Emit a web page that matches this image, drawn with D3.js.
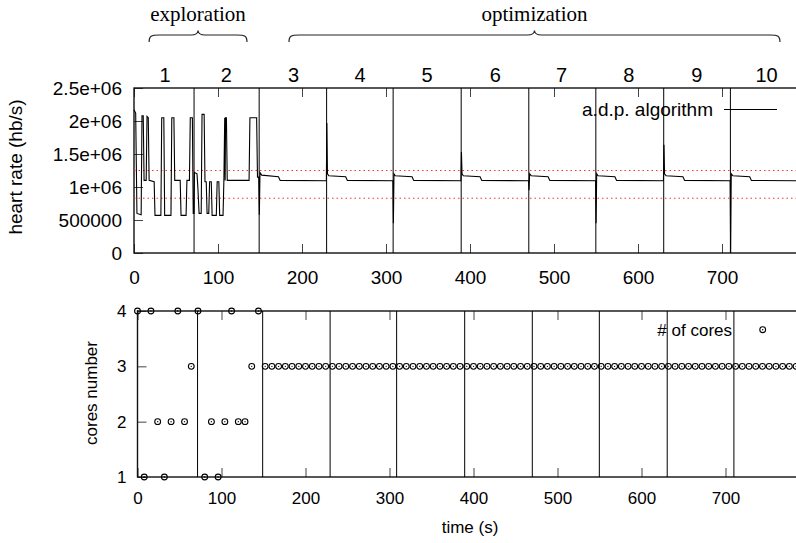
<!DOCTYPE html>
<html>
<head>
<meta charset="utf-8">
<script src="https://cdn.jsdelivr.net/npm/d3@7"></script>
<style>
  body { margin: 0; background: #fff; }
  svg text { font-family: "Liberation Sans", Arial, Helvetica, sans-serif; fill: #000; }
  svg text.serif { font-family: "Liberation Serif", "Times New Roman", serif; }
</style>
</head>
<body>
<svg id="chart" width="796" height="543"></svg>
<script>
/*
 * Heart rate and number of cores over time, split in an exploration
 * phase (sections 1-2) and an optimization phase (sections 3-10).
 */

// Section boundaries (s) and the labels written above the upper plot.
var sectionStarts = [71.5, 149, 229.3, 308.5, 389.5, 470, 549.8, 630.6, 710],
  sectionNames = ["1", "2", "3", "4", "5", "6", "7", "8", "9", "10"],
  sectionLabelTimes = [37, 110, 190, 269, 349, 430, 509, 589, 670, 753];

// Phases marked with braces at the very top (start / end time in s).
var phaseNames = ["exploration", "optimization"],
  phaseStarts = [18, 184.5],
  phaseEnds = [134.5, 769];

// Tick values and labels.
var timeTicks = [0, 100, 200, 300, 400, 500, 600, 700],
  rateTicks = [0, 500000, 1000000, 1500000, 2000000, 2500000],
  rateTickLabels = ["0", "500000", "1e+06", "1.5e+06", "2e+06", "2.5e+06"],
  coreTicks = [1, 2, 3, 4];

// Red dotted target band (hb/s).
var targetBand = [830000, 1250000];

// Heart rate measured by the a.d.p. algorithm: [time (s), hb/s].
var explorationRate = [
  [0, 2.17e6], [2, 2.12e6], [3.5, 0.6e6], [8.5, 0.58e6], [9.5, 2.08e6], [11, 2.08e6],
  [12, 1.1e6], [14.5, 1.1e6], [15.5, 2.07e6], [17, 2.05e6], [18, 1.1e6], [24, 1.08e6],
  [25, 0.57e6], [32, 0.57e6], [33, 2.05e6], [35.5, 2.05e6], [36.5, 0.57e6], [44, 0.57e6],
  [45, 2.05e6], [47.5, 2.05e6], [48.5, 1.1e6], [55, 1.1e6], [56, 0.57e6], [62, 0.57e6],
  [63, 1.1e6], [66, 1.1e6], [67, 2.05e6], [69.5, 2.05e6], [70.5, 0.6e6], [71.5, 0.6e6],
  [72, 1.22e6], [75, 1.2e6], [76, 1.0e6], [77.5, 0.6e6], [80, 0.6e6], [81, 2.1e6],
  [83.5, 2.1e6], [84.5, 1.08e6], [86, 1.08e6], [87, 0.6e6], [89, 0.6e6], [90, 1.08e6],
  [92, 1.08e6], [93, 0.57e6], [98, 0.57e6], [99, 1.08e6], [101, 1.08e6], [102, 0.57e6],
  [106, 0.57e6], [107, 1.1e6], [108, 2.05e6], [108.5, 1.1e6], [109, 2.05e6], [110, 2.05e6],
  [111, 1.1e6], [137, 1.1e6], [138, 2.05e6], [146, 2.05e6], [147, 1.15e6], [148.5, 1.15e6]
];

var optimizationRate = [
  [149.2, 0.58e6], [150, 1.22e6], [152, 1.18e6], [172, 1.155e6], [174, 1.1e6], [229, 1.095e6],
  [229.6, 1.97e6], [230.3, 1.2e6], [232, 1.17e6], [252, 1.155e6], [254, 1.1e6], [308.2, 1.095e6],
  [308.8, 0.45e6], [309.5, 1.2e6], [311, 1.17e6], [331, 1.155e6], [333, 1.1e6], [389.2, 1.095e6],
  [389.8, 1.53e6], [390.5, 1.2e6], [392, 1.17e6], [412, 1.155e6], [414, 1.1e6], [469.7, 1.095e6],
  [470.3, 0.95e6], [471, 1.2e6], [473, 1.17e6], [493, 1.155e6], [495, 1.1e6], [549.5, 1.095e6],
  [550.1, 0.45e6], [550.8, 1.2e6], [552.5, 1.17e6], [572.5, 1.155e6], [574.5, 1.1e6], [630.3, 1.095e6],
  [630.9, 1.64e6], [631.6, 1.2e6], [633.5, 1.17e6], [653.5, 1.155e6], [655.5, 1.1e6], [709.7, 1.095e6],
  [710.3, 0], [711, 1.2e6], [713, 1.17e6], [733, 1.155e6], [735, 1.1e6], [790, 1.095e6]
];

// Number of cores, sampled every 8 s.
var coreTimes = [
  0, 8, 16, 24, 32, 40, 48, 56, 64, 72, 80, 88, 96, 104, 112, 120, 128, 136, 144,
  152, 160, 168, 176, 184, 192, 200, 208, 216, 224, 232, 240, 248, 256, 264, 272,
  280, 288, 296, 304, 312, 320, 328, 336, 344, 352, 360, 368, 376, 384, 392, 400,
  408, 416, 424, 432, 440, 448, 456, 464, 472, 480, 488, 496, 504, 512, 520, 528,
  536, 544, 552, 560, 568, 576, 584, 592, 600, 608, 616, 624, 632, 640, 648, 656,
  664, 672, 680, 688, 696, 704, 712, 720, 728, 736, 744, 752, 760, 768, 776, 784
];
var coreCounts = [
  4, 1, 4, 2, 1, 2, 4, 2, 3, 4, 1, 2, 1, 2, 4, 2, 2, 3, 4,
  3, 3, 3, 3, 3, 3, 3, 3, 3, 3, 3, 3, 3, 3, 3, 3, 3, 3, 3, 3,
  3, 3, 3, 3, 3, 3, 3, 3, 3, 3, 3, 3, 3, 3, 3, 3, 3, 3, 3, 3,
  3, 3, 3, 3, 3, 3, 3, 3, 3, 3, 3, 3, 3, 3, 3, 3, 3, 3, 3, 3,
  3, 3, 3, 3, 3, 3, 3, 3, 3, 3, 3, 3, 3, 3, 3, 3, 3, 3, 3, 3
];

var svg = d3.select("#chart"),
  upper = {left: 134, right: 797.6, top: 88, bottom: 253},
  lower = {left: 137.5, right: 801.1, top: 311, bottom: 477},
  tickLen = 9;

var xUpper = d3.scaleLinear().domain([0, 790]).range([upper.left, upper.right]),
  xLower = d3.scaleLinear().domain([0, 790]).range([lower.left, lower.right]),
  yRate = d3.scaleLinear().domain([0, 2500000]).range([upper.bottom, upper.top]),
  yCores = d3.scaleLinear().domain([1, 4]).range([lower.bottom, lower.top]);

// Draw the inward gnuplot style ticks, the tick labels and the frame.
function drawFrame(box, x, y, yValues, yFormat, fontSize, xPad, yPad) {
  var g = svg.append("g");

  g.append("g")
    .attr("transform", "translate(0," + box.bottom + ")")
    .call(d3.axisBottom(x).tickValues(timeTicks).tickSize(-tickLen).tickPadding(xPad))
    .call(a => a.select(".domain").remove())
    .call(a => a.selectAll("text").attr("font-size", fontSize).attr("dy", "0.71em"));

  g.append("g")
    .attr("transform", "translate(0," + box.top + ")")
    .call(d3.axisTop(x).tickValues(timeTicks).tickSize(-tickLen).tickFormat(""))
    .call(a => a.select(".domain").remove());

  g.append("g")
    .attr("transform", "translate(" + box.left + ",0)")
    .call(d3.axisLeft(y).tickValues(yValues).tickSize(-tickLen).tickPadding(yPad).tickFormat(yFormat))
    .call(a => a.select(".domain").remove())
    .call(a => a.selectAll("text").attr("font-size", fontSize));

  g.selectAll(".tick line").attr("stroke", "#444").attr("stroke-width", 1);
  g.selectAll("text").attr("font-family", null);

  svg.append("rect")
    .attr("x", box.left)
    .attr("y", box.top)
    .attr("width", box.right - box.left)
    .attr("height", box.bottom - box.top)
    .attr("fill", "none")
    .attr("stroke", "#111")
    .attr("stroke-width", 1.4);
}

// Vertical lines that separate the sections.
function drawSeparators(box, x) {
  svg.append("g").selectAll("line")
    .data(sectionStarts)
    .enter().append("line")
    .attr("x1", d => x(d))
    .attr("x2", d => x(d))
    .attr("y1", box.top)
    .attr("y2", box.bottom)
    .attr("stroke", "#000")
    .attr("stroke-width", 1);
}

// A curly brace with its tip pointing up.
function bracePath(x0, x1, yEnd, yMid, yTip) {
  var xc = (x0 + x1) / 2, r = 10, rt = 7;
  return "M" + x0 + "," + yEnd +
    "C" + x0 + "," + (yMid + 1) + " " + (x0 + 2) + "," + yMid + " " + (x0 + r) + "," + yMid +
    "L" + (xc - rt) + "," + yMid +
    "C" + (xc - 2) + "," + yMid + " " + xc + "," + (yTip + 2) + " " + xc + "," + yTip +
    "C" + xc + "," + (yTip + 2) + " " + (xc + 2) + "," + yMid + " " + (xc + rt) + "," + yMid +
    "L" + (x1 - r) + "," + yMid +
    "C" + (x1 - 2) + "," + yMid + " " + x1 + "," + (yMid + 1) + " " + x1 + "," + yEnd;
}

/* ---------- upper plot: heart rate ---------- */
drawFrame(upper, xUpper, yRate, rateTicks, (d, i) => rateTickLabels[i], 19, 18, 12);
drawSeparators(upper, xUpper);

svg.append("g").selectAll("line")
  .data(targetBand)
  .enter().append("line")
  .attr("x1", upper.left)
  .attr("x2", 796)
  .attr("y1", d => yRate(d))
  .attr("y2", d => yRate(d))
  .attr("stroke", "#ff3030")
  .attr("stroke-width", 1)
  .attr("stroke-dasharray", "1.5,3");

svg.append("path")
  .datum(explorationRate.concat(optimizationRate))
  .attr("fill", "none")
  .attr("stroke", "#000")
  .attr("stroke-width", 1.1)
  .attr("d", d3.line().x(d => xUpper(d[0])).y(d => yRate(d[1])));

// Section numbers above the plot.
svg.append("g").selectAll("text")
  .data(sectionNames)
  .enter().append("text")
  .attr("x", (d, i) => xUpper(sectionLabelTimes[i]))
  .attr("y", 82)
  .attr("text-anchor", "middle")
  .attr("font-size", 20)
  .text(d => d);

// Phase braces and names.
phaseNames.forEach(function (name, i) {
  var x0 = xUpper(phaseStarts[i]), x1 = xUpper(phaseEnds[i]);
  svg.append("path")
    .attr("d", bracePath(x0, x1, 42, 35, 30.5))
    .attr("fill", "none")
    .attr("stroke", "#222")
    .attr("stroke-width", 1.2);
  svg.append("text")
    .attr("class", "serif")
    .attr("x", (x0 + x1) / 2)
    .attr("y", 21)
    .attr("text-anchor", "middle")
    .attr("font-size", 21)
    .text(name);
});

// Legend of the upper plot.
svg.append("text")
  .attr("x", 713)
  .attr("y", 116)
  .attr("text-anchor", "end")
  .attr("font-size", 19)
  .text("a.d.p. algorithm");
svg.append("line")
  .attr("x1", 724).attr("x2", 777)
  .attr("y1", 109.5).attr("y2", 109.5)
  .attr("stroke", "#000")
  .attr("stroke-width", 1.1);

svg.append("text")
  .attr("transform", "translate(22,167) rotate(-90)")
  .attr("text-anchor", "middle")
  .attr("font-size", 19)
  .text("heart rate (hb/s)");

/* ---------- lower plot: number of cores ---------- */
drawFrame(lower, xLower, yCores, coreTicks, d3.format("d"), 17, 15, 11);
drawSeparators(lower, xLower);

function drawMarker(g, cx, cy) {
  g.append("circle")
    .attr("cx", cx).attr("cy", cy).attr("r", 2.9)
    .attr("fill", "none").attr("stroke", "#000").attr("stroke-width", 1.1);
  g.append("circle")
    .attr("cx", cx).attr("cy", cy).attr("r", 0.7)
    .attr("fill", "#000");
}

var markers = svg.append("g");
coreCounts.forEach(function (c, i) {
  drawMarker(markers, xLower(coreTimes[i]), yCores(c));
});

svg.append("text")
  .attr("x", 732)
  .attr("y", 336)
  .attr("text-anchor", "end")
  .attr("font-size", 17)
  .text("# of cores");
drawMarker(svg.append("g"), 762.7, 329.7);

svg.append("text")
  .attr("transform", "translate(96.5,393) rotate(-90)")
  .attr("text-anchor", "middle")
  .attr("font-size", 17)
  .text("cores number");

svg.append("text")
  .attr("x", 470)
  .attr("y", 533)
  .attr("text-anchor", "middle")
  .attr("font-size", 17)
  .text("time (s)");
</script>
</body>
</html>
